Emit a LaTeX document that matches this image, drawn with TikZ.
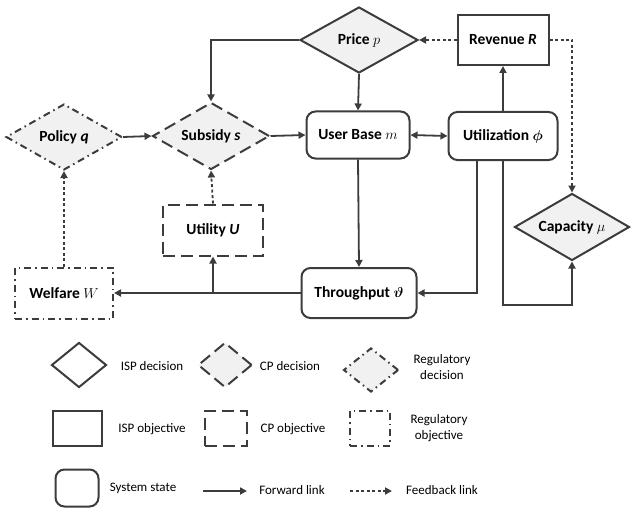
\documentclass[tikz,border=0pt]{standalone}
\usepackage{bm}
\usepackage{fontspec}
\setmainfont{Carlito}
\usetikzlibrary{shapes.geometric,arrows.meta}
\definecolor{lc}{RGB}{60,60,60}
\definecolor{dfill}{RGB}{241,241,241}
\tikzset{
  base/.style={draw=lc, line width=2pt, inner sep=0pt, align=center, text=black},
  isp/.style={base, diamond, aspect=2, fill=dfill},
  cpd/.style={isp, dash pattern=on 12pt off 6pt},
  regd/.style={isp, dash pattern=on 7pt off 4pt on 1.5pt off 4pt},
  ispo/.style={base, rectangle, fill=white},
  cpo/.style={ispo, dash pattern=on 12pt off 6pt},
  rego/.style={ispo, dash pattern=on 7pt off 4pt on 1.5pt off 4pt},
  state/.style={base, rectangle, rounded corners=9pt, fill=white},
  fwd/.style={draw=lc, line width=1.8pt, -{Triangle[length=7pt,width=7pt]}},
  fwdd/.style={draw=lc, line width=1.8pt, {Triangle[length=7pt,width=7pt]}-{Triangle[length=7pt,width=7pt]}},
  fb/.style={draw=lc, line width=1.8pt, dash pattern=on 3pt off 2.5pt, -{Triangle[length=7pt,width=7pt]}},
  mainf/.style={font=\fontsize{15.5}{17}\selectfont\bfseries},
  legf/.style={font=\fontsize{13}{15.5}\selectfont, align=center, inner sep=0pt},
}
\begin{document}
\begin{tikzpicture}[x=1pt,y=-1pt]
\useasboundingbox (0,0) rectangle (631,508);
% main nodes
\node[isp, mainf, minimum width=118pt, minimum height=66pt] (price) at (359,40) {Price $p$};
\node[ispo, mainf, minimum width=91pt, minimum height=50pt] (rev) at (503,40) {Revenue \textit{R}};
\node[state, mainf, minimum width=103pt, minimum height=47pt] (ub) at (358,135) {User Base $m$};
\node[state, mainf, minimum width=109pt, minimum height=48pt] (util) at (503,136) {Utilization $\bm{\phi}$};
\node[cpd, mainf, minimum width=117pt, minimum height=67pt] (sub) at (211,136) {Subsidy \textit{s}};
\node[regd, mainf, minimum width=116pt, minimum height=66pt] (pol) at (64,137) {Policy \textit{q}};
\node[cpo, mainf, minimum width=100pt, minimum height=51pt] (utility) at (213,230) {Utility \textit{U}};
\node[rego, mainf, minimum width=98pt, minimum height=51pt] (welf) at (64,293) {Welfare $W$};
\node[state, mainf, minimum width=115pt, minimum height=50pt] (thr) at (359,293) {Throughput $\bm{\vartheta}$};
\node[isp, mainf, minimum width=115pt, minimum height=67pt] (cap) at (572,227) {Capacity $\mu$};
\coordinate (cb) at (572,305);
% connectors
\draw[fwd] (price.west) -| (sub.north);
\draw[fwd] (price.south) -- (ub.north);
\draw[fb] (rev.west) -- (price.east);
\draw[fb] (rev.east) -| (cap.north);
\draw[fwd] (pol.east) -- (sub.west);
\draw[fwd] (sub.east) -- (ub.west);
\draw[fwdd] (ub.east) -- (util.west);
\draw[fwd] (util.north) -- (rev.south);
\draw[fwd] (ub.south) -- (thr.north);
\draw[fwd] ([xshift=-26pt]util.south) |- (thr.east);
\draw[fwd] (util.south) |- (cb) -- (cap.south);
\draw[fwd] (thr.west) -- (welf.east);
\draw[fwd] (utility.south |- thr.west) -- (utility.south);
\draw[fb] (utility.north) -- (sub.south);
\draw[fb] (welf.north) -- (pol.south);
% legend
\node[isp, fill=white, minimum width=55pt, minimum height=45pt] (l1) at (79,365) {};
\node[legf] (t1) at (152,366) {ISP decision};
\node[cpd, minimum width=54pt, minimum height=45pt] (l2) at (225,365) {};
\node[legf] (t2) at (290,366) {CP decision};
\node[regd, minimum width=55pt, minimum height=44pt] (l3) at (371,370) {};
\node[legf] (t3) at (442,367) {Regulatory\\decision};
\node[ispo, minimum width=49pt, minimum height=35pt] (l4) at (77,428) {};
\node[legf] (t4) at (152,429) {ISP objective};
\node[cpo, minimum width=42pt, minimum height=35pt] (l5) at (226,428) {};
\node[legf] (t5) at (293,429) {CP objective};
\node[rego, minimum width=40pt, minimum height=35pt] (l6) at (370,428) {};
\node[legf] (t6) at (439,428) {Regulatory\\objective};
\node[state, minimum width=43pt, minimum height=37pt] (l7) at (77,488) {};
\node[legf] (t7) at (143,488) {System state};
\coordinate (f1) at (203,491);
\coordinate (f2) at (247,491);
\draw[fwd] (f1) -- (f2);
\node[legf] (t8) at (292,490) {Forward link};
\coordinate (b1) at (350,491);
\coordinate (b2) at (392,491);
\draw[fb] (b1) -- (b2);
\node[legf] (t9) at (442,490) {Feedback link};
\end{tikzpicture}
\end{document}
